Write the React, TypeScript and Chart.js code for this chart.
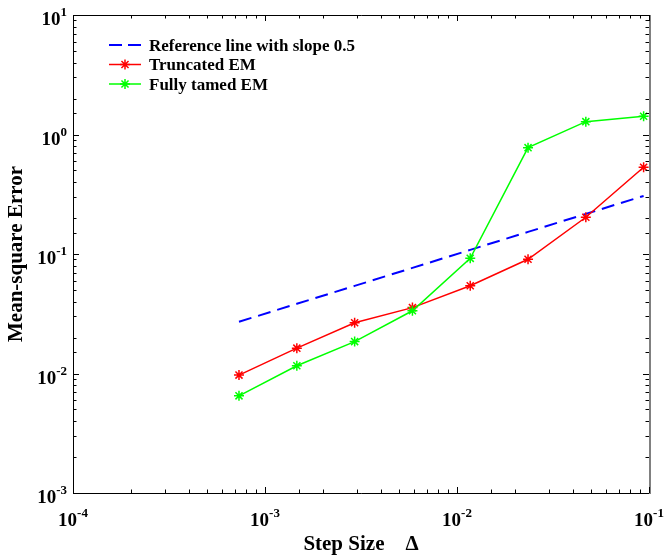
import React, { useEffect, useRef } from "react";
import { Chart, registerables } from "chart.js";

Chart.register(...registerables);

// ---- data ----
const stepSizes = [0.000732, 0.001465, 0.00293, 0.00586, 0.01172, 0.02344, 0.04688, 0.09375];
const referenceErrors = [0.0271, 0.0383, 0.0541, 0.0765, 0.1083, 0.1531, 0.2165, 0.3062];
const truncatedErrors = [0.0097, 0.0163, 0.0266, 0.0356, 0.0543, 0.0903, 0.203, 0.532];
const tamedErrors = [0.0065, 0.0116, 0.0185, 0.0335, 0.092, 0.776, 1.28, 1.42];
const seriesLabels = ["Reference line with slope 0.5", "Truncated EM", "Fully tamed EM"];
const seriesColors = ["#0000ff", "#ff0000", "#00ff00"];
const xTickExponents = [-4, -3, -2, -1];
const yTickExponents = [-3, -2, -1, 0, 1];
const xTitle = "Step Size    \u0394";
const yTitle = "Mean-square Error";

const FONT = "'Liberation Serif', 'Times New Roman', serif";

function isDecade(v: number) {
  const l = Math.log10(v);
  return Math.abs(l - Math.round(l)) < 1e-6;
}

function drawStar(ctx: CanvasRenderingContext2D, x: number, y: number, r: number) {
  ctx.beginPath();
  for (let i = 0; i < 4; i++) {
    const a = (i * Math.PI) / 4;
    ctx.moveTo(x - r * Math.cos(a), y - r * Math.sin(a));
    ctx.lineTo(x + r * Math.cos(a), y + r * Math.sin(a));
  }
  ctx.stroke();
}

const decorPlugin = {
  id: "decor",
  afterDraw(chart: any) {
    const ctx: CanvasRenderingContext2D = chart.ctx;
    const { left, right, top, bottom } = chart.chartArea;
    const xs = chart.scales.x;
    const ys = chart.scales.y;
    ctx.save();
    // box
    ctx.strokeStyle = "#000";
    ctx.lineWidth = 1;
    ctx.beginPath();
    ctx.moveTo(left + 0.5, top + 0.5);
    ctx.lineTo(right, top + 0.5);
    ctx.moveTo(left + 0.5, top);
    ctx.lineTo(left + 0.5, bottom + 0.5);
    ctx.lineTo(right, bottom + 0.5);
    ctx.stroke();
    ctx.strokeStyle = "#808080";
    ctx.lineWidth = 2;
    ctx.beginPath();
    ctx.moveTo(right + 1, top);
    ctx.lineTo(right + 1, bottom + 1);
    ctx.stroke();

    // ticks
    ctx.strokeStyle = "#000";
    ctx.lineWidth = 1;
    ctx.beginPath();
    for (const t of xs.ticks) {
      const v = t.value;
      if (v < xs.min * 0.999 || v > xs.max * 1.001) continue;
      const px = Math.round(xs.getPixelForValue(v)) + 0.5;
      const len = isDecade(v) ? 6 : 3.5;
      ctx.moveTo(px, bottom);
      ctx.lineTo(px, bottom - len);
      ctx.moveTo(px, top);
      ctx.lineTo(px, top + len);
    }
    for (const t of ys.ticks) {
      const v = t.value;
      if (v < ys.min * 0.999 || v > ys.max * 1.001) continue;
      const py = Math.round(ys.getPixelForValue(v)) + 0.5;
      const len = isDecade(v) ? 6 : 3.5;
      ctx.moveTo(left, py);
      ctx.lineTo(left + len, py);
      ctx.moveTo(right, py);
      ctx.lineTo(right - len, py);
    }
    ctx.stroke();

    // tick labels
    ctx.fillStyle = "#000";
    ctx.textBaseline = "alphabetic";
    const baseFont = `bold 19px ${FONT}`;
    const supFont = `bold 13px ${FONT}`;
    for (const e of xTickExponents) {
      const px = xs.getPixelForValue(Math.pow(10, e));
      const sup = String(e);
      ctx.font = baseFont;
      const w1 = ctx.measureText("10").width;
      ctx.font = supFont;
      const w2 = ctx.measureText(sup).width;
      const x0 = px - (w1 + w2) / 2;
      ctx.font = baseFont;
      ctx.textAlign = "left";
      ctx.fillText("10", x0, 526);
      ctx.font = supFont;
      ctx.fillText(sup, x0 + w1, 517);
    }
    for (const e of yTickExponents) {
      const py = ys.getPixelForValue(Math.pow(10, e));
      const sup = String(e);
      ctx.font = supFont;
      const w2 = ctx.measureText(sup).width;
      const xr = 67;
      ctx.textAlign = "right";
      ctx.fillText(sup, xr, py + 1);
      ctx.font = baseFont;
      ctx.fillText("10", xr - w2, py + 10);
    }

    // legend
    const rows = [45, 64.5, 84];
    ctx.font = `bold 17px ${FONT}`;
    ctx.textAlign = "left";
    for (let i = 0; i < seriesLabels.length; i++) {
      const y = rows[i];
      ctx.strokeStyle = seriesColors[i];
      if (i === 0) {
        ctx.lineWidth = 2;
        ctx.setLineDash([13, 6]);
      } else {
        ctx.lineWidth = 1.5;
        ctx.setLineDash([]);
      }
      ctx.beginPath();
      ctx.moveTo(109, y);
      ctx.lineTo(141, y);
      ctx.stroke();
      ctx.setLineDash([]);
      if (i > 0) {
        ctx.lineWidth = 1.5;
        drawStar(ctx, 125, y, 5);
      }
      ctx.fillStyle = "#000";
      ctx.fillText(seriesLabels[i], 149, y + 5.5);
    }
    ctx.restore();
  },
};

export default function App() {
  const canvasRef = useRef<HTMLCanvasElement | null>(null);

  useEffect(() => {
    document.body.style.margin = "0";
    const canvas = canvasRef.current;
    if (!canvas) return;
    const toPts = (ys: number[]) => stepSizes.map((x, i) => ({ x, y: ys[i] }));
    const chart = new Chart(canvas, {
      type: "scatter",
      data: {
        datasets: [
          {
            label: seriesLabels[0],
            data: toPts(referenceErrors),
            showLine: true,
            borderColor: seriesColors[0],
            borderWidth: 2,
            borderDash: [13, 7],
            pointRadius: 0,
            order: 2,
          },
          {
            label: seriesLabels[1],
            data: toPts(truncatedErrors),
            showLine: true,
            borderColor: seriesColors[1],
            backgroundColor: seriesColors[1],
            borderWidth: 1.5,
            pointStyle: "star",
            pointRadius: 5,
            pointBorderWidth: 1.5,
            pointBorderColor: seriesColors[1],
            order: 1,
          },
          {
            label: seriesLabels[2],
            data: toPts(tamedErrors),
            showLine: true,
            borderColor: seriesColors[2],
            backgroundColor: seriesColors[2],
            borderWidth: 1.5,
            pointStyle: "star",
            pointRadius: 5,
            pointBorderWidth: 1.5,
            pointBorderColor: seriesColors[2],
            order: 0,
          },
        ],
      },
      options: {
        animation: false,
        responsive: true,
        maintainAspectRatio: false,
        layout: { padding: { top: 15, right: 16, left: 0, bottom: 0 } },
        plugins: { legend: { display: false }, tooltip: { enabled: false } },
        scales: {
          x: {
            type: "logarithmic",
            min: 1e-4,
            max: 1e-1,
            grid: { display: false },
            border: { display: false },
            ticks: { display: false },
            title: {
              display: true,
              text: xTitle,
              color: "#000",
              font: { family: FONT, size: 21, weight: "bold", lineHeight: 1 },
              padding: { top: 0, bottom: 1 },
            },
            afterFit: (s: any) => {
              s.height = 63;
            },
          },
          y: {
            type: "logarithmic",
            min: 1e-3,
            max: 1e1,
            grid: { display: false },
            border: { display: false },
            ticks: { display: false },
            title: {
              display: true,
              text: yTitle,
              color: "#000",
              font: { family: FONT, size: 21, weight: "bold", lineHeight: 1.2 },
              padding: { top: 4, bottom: 0 },
            },
            afterFit: (s: any) => {
              s.width = 73;
            },
          },
        },
      },
      plugins: [decorPlugin],
    });
    return () => chart.destroy();
  }, []);

  return (
    <div style={{ position: "absolute", left: 0, top: 0, width: 665, height: 556, background: "#fff" }}>
      <canvas ref={canvasRef} />
    </div>
  );
}
